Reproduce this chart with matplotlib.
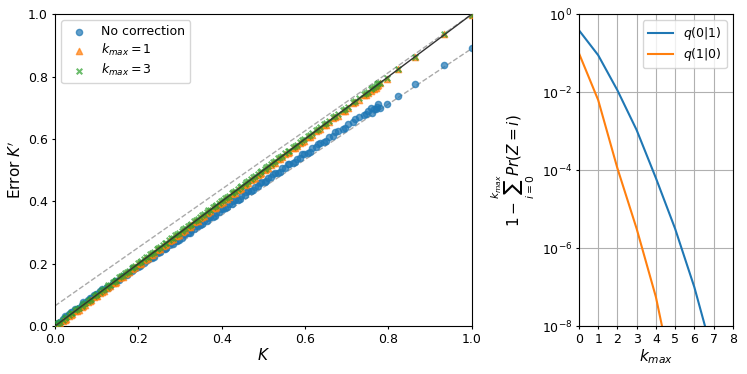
import numpy as np
import matplotlib
matplotlib.use('Agg')
import matplotlib.pyplot as plt

# left panel: true K vs estimated K'
K = [0.004, 0.012, 0.019, 0.027, 0.034, 0.042, 0.049, 0.057, 0.064, 0.072,
     0.079, 0.087, 0.094, 0.102, 0.109, 0.117, 0.124, 0.132, 0.139, 0.147,
     0.154, 0.162, 0.169, 0.177, 0.184, 0.192, 0.199, 0.207, 0.214, 0.222,
     0.229, 0.237, 0.244, 0.252, 0.259, 0.267, 0.274, 0.282, 0.289, 0.297,
     0.304, 0.312, 0.319, 0.327, 0.334, 0.342, 0.349, 0.357, 0.364, 0.372,
     0.379, 0.387, 0.394, 0.402, 0.409, 0.417, 0.424, 0.432, 0.439, 0.447,
     0.455, 0.463, 0.471, 0.479, 0.487, 0.495, 0.503, 0.511, 0.519, 0.528,
     0.536, 0.545, 0.553, 0.562, 0.571, 0.580, 0.589, 0.598, 0.607, 0.617,
     0.626, 0.636, 0.646, 0.657, 0.668, 0.679, 0.691, 0.703, 0.716, 0.729,
     0.742, 0.751, 0.760, 0.769, 0.780, 0.797, 0.823, 0.864, 0.934, 1.000,
     0.008, 0.023, 0.038, 0.053, 0.068, 0.083, 0.098, 0.113, 0.128, 0.143,
     0.158, 0.173, 0.188, 0.203, 0.218, 0.233, 0.248, 0.263, 0.278, 0.293,
     0.308, 0.323, 0.338, 0.353, 0.368, 0.383, 0.398, 0.413, 0.428, 0.443,
     0.459, 0.475, 0.491, 0.507, 0.524, 0.541, 0.558, 0.575, 0.593, 0.611,
     0.630, 0.650, 0.672, 0.695, 0.720, 0.746, 0.757, 0.765, 0.773, 0.776]

no_corr = [0.008, 0.014, 0.024, 0.029, 0.039, 0.044, 0.054, 0.058, 0.069, 0.075,
           0.084, 0.089, 0.099, 0.104, 0.112, 0.116, 0.127, 0.130, 0.137, 0.146,
           0.149, 0.160, 0.163, 0.173, 0.176, 0.187, 0.190, 0.200, 0.203, 0.214,
           0.220, 0.223, 0.234, 0.237, 0.247, 0.250, 0.261, 0.264, 0.274, 0.277,
           0.284, 0.295, 0.297, 0.309, 0.311, 0.322, 0.324, 0.336, 0.338, 0.350,
           0.351, 0.363, 0.365, 0.377, 0.378, 0.390, 0.392, 0.404, 0.405, 0.417,
           0.420, 0.432, 0.434, 0.446, 0.448, 0.461, 0.463, 0.475, 0.477, 0.490,
           0.492, 0.506, 0.508, 0.521, 0.524, 0.537, 0.540, 0.553, 0.556, 0.570,
           0.573, 0.587, 0.591, 0.606, 0.611, 0.626, 0.632, 0.648, 0.654, 0.671,
           0.678, 0.690, 0.684, 0.697, 0.699, 0.712, 0.737, 0.776, 0.837, 0.891,
           0.010, 0.031, 0.046, 0.055, 0.078, 0.091, 0.103, 0.118, 0.123, 0.145,
           0.158, 0.165, 0.185, 0.192, 0.211, 0.218, 0.238, 0.246, 0.266, 0.272,
           0.293, 0.300, 0.320, 0.327, 0.348, 0.353, 0.375, 0.381, 0.402, 0.407,
           0.430, 0.436, 0.459, 0.465, 0.489, 0.495, 0.519, 0.527, 0.551, 0.558,
           0.584, 0.594, 0.622, 0.634, 0.665, 0.679, 0.698, 0.695, 0.703, 0.713]

kmax1 = [0.001, 0.008, 0.017, 0.023, 0.032, 0.038, 0.047, 0.053, 0.062, 0.068,
         0.077, 0.083, 0.093, 0.098, 0.107, 0.113, 0.123, 0.128, 0.138, 0.143,
         0.153, 0.158, 0.168, 0.173, 0.183, 0.188, 0.198, 0.203, 0.213, 0.218,
         0.228, 0.233, 0.243, 0.248, 0.258, 0.263, 0.273, 0.278, 0.288, 0.293,
         0.303, 0.308, 0.318, 0.323, 0.333, 0.338, 0.348, 0.353, 0.363, 0.368,
         0.378, 0.383, 0.393, 0.398, 0.408, 0.413, 0.423, 0.428, 0.438, 0.443,
         0.454, 0.459, 0.470, 0.475, 0.486, 0.491, 0.502, 0.507, 0.518, 0.524,
         0.535, 0.541, 0.552, 0.558, 0.570, 0.576, 0.588, 0.594, 0.606, 0.613,
         0.625, 0.632, 0.645, 0.653, 0.667, 0.675, 0.690, 0.699, 0.715, 0.725,
         0.741, 0.747, 0.759, 0.765, 0.779, 0.792, 0.824, 0.862, 0.936, 0.997,
         0.005, 0.019, 0.036, 0.049, 0.066, 0.079, 0.096, 0.109, 0.126, 0.139,
         0.156, 0.169, 0.186, 0.199, 0.216, 0.229, 0.246, 0.259, 0.276, 0.289,
         0.306, 0.319, 0.336, 0.349, 0.366, 0.379, 0.396, 0.409, 0.426, 0.439,
         0.457, 0.471, 0.489, 0.503, 0.522, 0.537, 0.556, 0.571, 0.591, 0.607,
         0.628, 0.646, 0.670, 0.691, 0.718, 0.742, 0.755, 0.761, 0.771, 0.772]

kmax3 = [0.006, 0.013, 0.021, 0.028, 0.036, 0.043, 0.051, 0.058, 0.066, 0.073,
         0.081, 0.088, 0.096, 0.103, 0.111, 0.118, 0.126, 0.133, 0.141, 0.148,
         0.156, 0.163, 0.171, 0.178, 0.186, 0.193, 0.201, 0.208, 0.216, 0.223,
         0.231, 0.238, 0.246, 0.253, 0.261, 0.268, 0.276, 0.283, 0.291, 0.298,
         0.306, 0.313, 0.321, 0.328, 0.336, 0.343, 0.351, 0.358, 0.366, 0.373,
         0.381, 0.388, 0.396, 0.403, 0.411, 0.418, 0.426, 0.433, 0.441, 0.448,
         0.457, 0.464, 0.473, 0.480, 0.489, 0.496, 0.505, 0.512, 0.521, 0.529,
         0.538, 0.546, 0.555, 0.563, 0.573, 0.581, 0.591, 0.599, 0.609, 0.618,
         0.628, 0.637, 0.648, 0.658, 0.670, 0.680, 0.693, 0.704, 0.718, 0.730,
         0.744, 0.752, 0.762, 0.770, 0.781, 0.794, 0.823, 0.864, 0.935, 0.999,
         0.011, 0.025, 0.041, 0.055, 0.071, 0.085, 0.101, 0.115, 0.131, 0.145,
         0.161, 0.175, 0.191, 0.205, 0.221, 0.235, 0.251, 0.265, 0.281, 0.295,
         0.311, 0.325, 0.341, 0.355, 0.371, 0.385, 0.401, 0.415, 0.431, 0.445,
         0.462, 0.477, 0.494, 0.509, 0.527, 0.543, 0.561, 0.577, 0.596, 0.613,
         0.633, 0.652, 0.675, 0.697, 0.723, 0.748, 0.760, 0.767, 0.776, 0.778]

# guide lines (values at K=0 and K=1)
diag_x = [0.0, 1.0]
diag_y = [0.0, 1.0]
upper_y = [0.065, 1.0]
lower_y = [0.0, 0.89]

# right panel: tail probability vs k_max
kk_01 = [0, 1, 2, 3, 4, 5, 6, 7]
q01 = [10**-0.41, 10**-1.05, 10**-1.95, 10**-2.97, 10**-4.2, 10**-5.5, 10**-7.0, 10**-8.8]
kk_10 = [0, 1, 2, 3, 4, 5]
q10 = [10**-1.0, 10**-2.2, 10**-3.95, 10**-5.5, 10**-7.25, 10**-9.6]

plt.rcParams['xtick.major.size'] = 2.5
plt.rcParams['ytick.major.size'] = 2.5
plt.rcParams['xtick.major.pad'] = 2.5
plt.rcParams['ytick.major.pad'] = 2.5

fig = plt.figure(figsize=(7.47, 3.74), dpi=100)
ax1 = fig.add_axes([0.0736, 0.128, 0.558, 0.834])
ax2 = fig.add_axes([0.775, 0.128, 0.206, 0.834])

ax1.plot(diag_x, upper_y, '--', color='#aaaaaa', lw=1, zorder=1)
ax1.plot(diag_x, lower_y, '--', color='#aaaaaa', lw=1, zorder=1)
ax1.scatter(K, no_corr, color='tab:blue', marker='o', s=20, alpha=0.7, label='No correction', zorder=2)
ax1.scatter(K, kmax1, color='tab:orange', marker='^', s=20, alpha=0.7, label='$k_{max}=1$', zorder=3)
ax1.scatter(K, kmax3, color='tab:green', marker='x', s=16, alpha=0.7, label='$k_{max}=3$', zorder=4)
ax1.plot(diag_x, diag_y, '-', color='#333333', lw=1, zorder=5)
ax1.set_xlim(0, 1)
ax1.set_ylim(0, 1)
ax1.set_xlabel('$K$', fontsize=11, labelpad=1)
ax1.set_ylabel("Error $K'$", fontsize=11, labelpad=3)
ax1.tick_params(labelsize=9)
ax1.legend(loc='upper left', fontsize=9, labelspacing=0.3)

ax2.plot(kk_01, q01, color='tab:blue', label='$q(0|1)$')
ax2.plot(kk_10, q10, color='tab:orange', label='$q(1|0)$')
ax2.set_yscale('log')
ax2.set_xlim(0, 8)
ax2.set_ylim(1e-8, 1)
ax2.set_yticks([1, 1e-2, 1e-4, 1e-6, 1e-8])
ax2.minorticks_off()
ax2.set_xticks(range(0, 9))
ax2.grid(True, color='#b0b0b0', lw=0.8)
ax2.set_xlabel('$k_{max}$', fontsize=11, labelpad=1)
ax2.set_ylabel('$1-\\sum_{i=0}^{k_{max}}Pr(Z=i)$', fontsize=11, labelpad=3)
ax2.tick_params(labelsize=9)
ax2.legend(loc='upper right', fontsize=9, labelspacing=0.3)

fig.savefig('out.png', dpi=100)
